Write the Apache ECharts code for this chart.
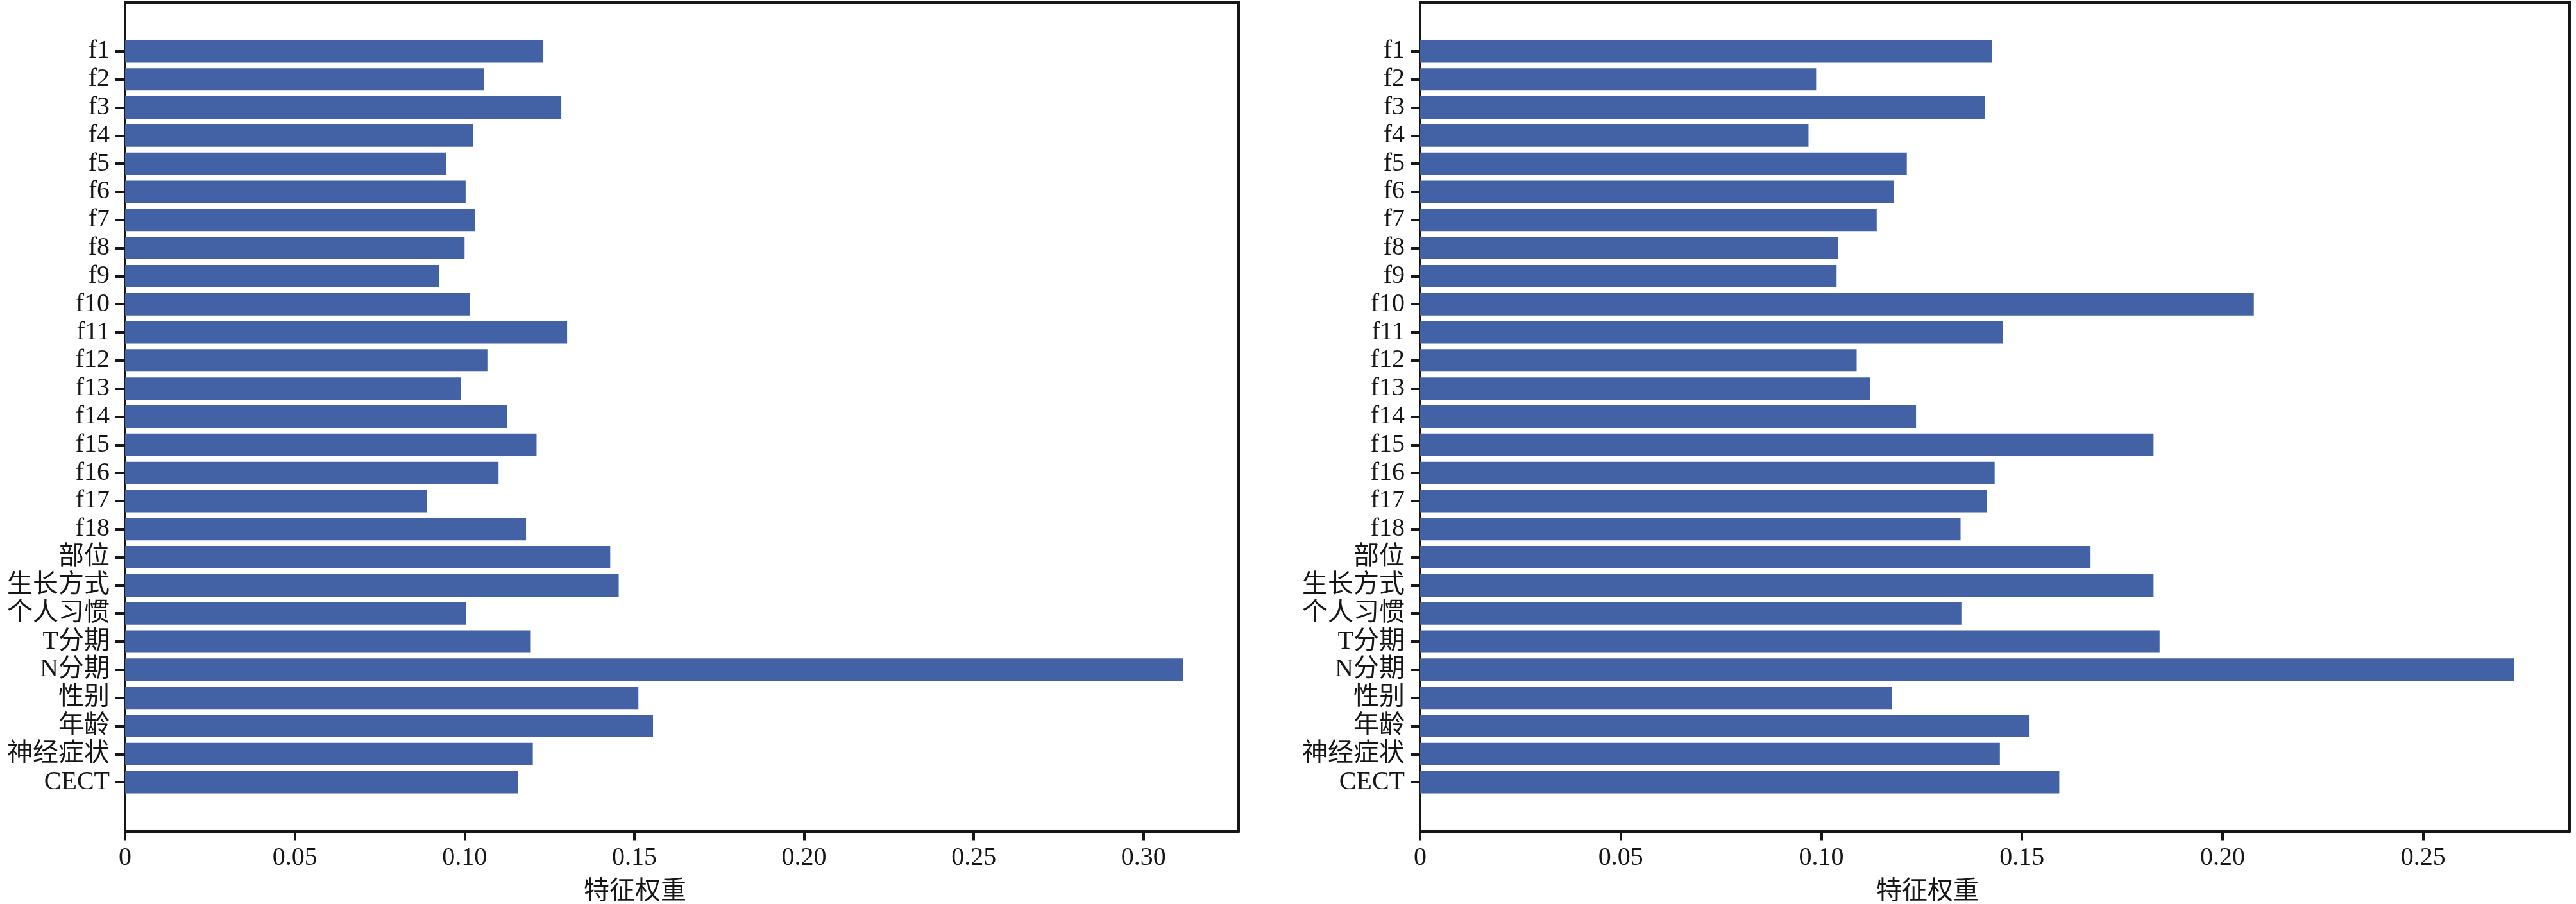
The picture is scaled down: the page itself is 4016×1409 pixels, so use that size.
<!DOCTYPE html>
<html>
<head>
<meta charset="utf-8">
<script src="https://cdn.jsdelivr.net/npm/echarts@6/dist/echarts.min.js"></script>
<style>
html,body{margin:0;padding:0;background:#fff;}
#chart{width:4016px;height:1409px;}
</style>
</head>
<body>
<div id="chart"></div>
<script>
const categories = ['f1','f2','f3','f4','f5','f6','f7','f8','f9','f10','f11','f12','f13','f14','f15','f16','f17','f18','部位','生长方式','个人习惯','T分期','N分期','性别','年龄','神经症状','CECT'];
const leftValues = [0.1232,0.1058,0.1285,0.1025,0.0946,0.1003,0.1031,0.1000,0.0925,0.1016,0.1302,0.1069,0.0989,0.1126,0.1212,0.1100,0.0889,0.1181,0.1429,0.1454,0.1005,0.1195,0.3117,0.1512,0.1555,0.1201,0.1158];
const rightValues = [0.1426,0.0987,0.1408,0.0968,0.1213,0.1181,0.1138,0.1042,0.1038,0.2078,0.1453,0.1088,0.1121,0.1236,0.1828,0.1432,0.1412,0.1347,0.1671,0.1828,0.1349,0.1843,0.2726,0.1176,0.1519,0.1445,0.1593];
const leftTicks = [0,0.05,0.10,0.15,0.20,0.25,0.30];
const rightTicks = [0,0.05,0.10,0.15,0.20,0.25];
const leftMax = 0.328;
const rightMax = 0.2865;
const axisTitle = '特征权重';

const FONT = "'Liberation Serif', 'Noto Sans CJK SC', serif";
const INK = '#161616';
const BAR = '#4262a5';
const fmt = v => (v === 0 ? '0' : v.toFixed(2));

const frames = [
  {left: 195, right: 2085},
  {left: 2214, right: 10}
];
const grids = [];
const xAxes = [];
const yAxes = [];
const series = [];
const sets = [
  {vals: leftValues, ticks: leftTicks, max: leftMax},
  {vals: rightValues, ticks: rightTicks, max: rightMax}
];
sets.forEach((s, i) => {
  const f = frames[i];
  // frame grid
  grids.push({left: f.left, right: f.right, top: 4, bottom: 113.5, show: true, borderColor: INK, borderWidth: 4, containLabel: false});
  // bars grid
  grids.push({left: f.left, right: f.right, top: 58, bottom: 168, containLabel: false});
  const g0 = i * 2, g1 = i * 2 + 1;
  xAxes.push({
    type: 'value', gridIndex: g0, min: 0, max: s.max,
    axisLine: {show: true, lineStyle: {color: INK, width: 4}},
    axisTick: {show: true, length: 15, inside: false, customValues: s.ticks, lineStyle: {color: INK, width: 4}},
    axisLabel: {show: true, customValues: s.ticks, formatter: fmt, fontFamily: FONT, fontSize: 40, color: INK, margin: 22},
    splitLine: {show: false}
  });
  yAxes.push({
    type: 'value', gridIndex: g0, min: 0, max: 1,
    axisLine: {show: true, onZero: false, lineStyle: {color: INK, width: 4}},
    axisTick: {show: false}, axisLabel: {show: false}, splitLine: {show: false}
  });
  xAxes.push({type: 'value', gridIndex: g1, min: 0, max: s.max, show: false, splitLine: {show: false}});
  yAxes.push({
    type: 'category', gridIndex: g1, data: categories, inverse: true,
    axisLine: {show: false},
    axisTick: {show: true, alignWithLabel: true, length: 15, interval: 0, lineStyle: {color: INK, width: 4}},
    axisLabel: {show: true, interval: 0, fontFamily: FONT, fontSize: 40, color: INK, margin: 24},
    splitLine: {show: false}
  });
  series.push({
    type: 'bar', xAxisIndex: i * 2 + 1, yAxisIndex: i * 2 + 1,
    data: s.vals, barWidth: 35, itemStyle: {color: BAR}, silent: true
  });
});

const chart = echarts.init(document.getElementById('chart'), null, {renderer: 'canvas'});
chart.setOption({
  backgroundColor: '#ffffff',
  animation: false,
  grid: grids,
  xAxis: xAxes,
  yAxis: yAxes,
  series: series,
  graphic: [
    {type: 'text', x: 990, y: 1386, style: {text: axisTitle, fontFamily: "'Noto Sans CJK SC', sans-serif", fontSize: 40, fill: INK, align: 'center', verticalAlign: 'middle', textAlign: 'center', textVerticalAlign: 'middle'}},
    {type: 'text', x: 3005, y: 1386, style: {text: axisTitle, fontFamily: "'Noto Sans CJK SC', sans-serif", fontSize: 40, fill: INK, align: 'center', verticalAlign: 'middle', textAlign: 'center', textVerticalAlign: 'middle'}}
  ]
});
</script>
</body>
</html>
